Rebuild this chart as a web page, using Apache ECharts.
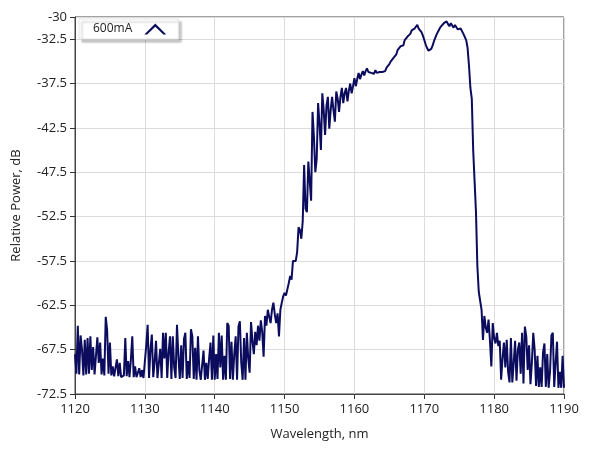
<!DOCTYPE html>
<html>
<head>
<meta charset="utf-8">
<script src="https://cdn.jsdelivr.net/npm/echarts@6/dist/echarts.min.js"></script>
<style>
html,body{margin:0;padding:0;background:#fff;}
#chart{width:589px;height:456px;}
</style>
</head>
<body>
<div id="chart"></div>
<script>
// Spectrum sampled every 0.2 nm; each row holds one nm (x.0, x.2, x.4, x.6, x.8)
const rowStartNm = 1120;
const sampleStepNm = 0.2;
const power600mA = [
  [-68.0,-70.2,-64.8,-70.3,-65.9], // 1120
  [-67.5,-70.4,-66.4,-70.3,-66.2], // 1121
  [-70.2,-66.0,-69.8,-67.2,-70.3], // 1122
  [-70.4,-66.1,-69.0,-66.7,-70.3], // 1123
  [-68.5,-70.4,-63.8,-65.3,-70.2], // 1124
  [-66.7,-70.4,-69.4,-70.5,-70.4], // 1125
  [-68.6,-70.5,-69.0,-70.6,-70.5], // 1126
  [-70.4,-66.2,-70.5,-68.8,-70.6], // 1127
  [-68.6,-66.0,-70.6,-69.4,-70.6], // 1128
  [-70.5,-69.6,-70.6,-69.8,-70.7], // 1129
  [-70.6,-67.0,-64.7,-70.7,-67.5], // 1130
  [-65.8,-70.6,-68.9,-66.5,-70.7], // 1131
  [-70.6,-67.4,-70.7,-65.6,-68.5], // 1132
  [-65.6,-70.7,-67.8,-66.0,-70.8], // 1133
  [-66.0,-69.5,-70.7,-64.7,-68.2], // 1134
  [-70.8,-67.0,-70.7,-66.3,-65.6], // 1135
  [-70.8,-68.8,-70.7,-65.2,-66.0], // 1136
  [-70.8,-67.3,-70.9,-66.0,-69.8], // 1137
  [-70.9,-70.8,-67.6,-70.9,-69.0], // 1138
  [-70.8,-68.5,-66.7,-70.9,-65.9], // 1139
  [-70.9,-68.0,-70.8,-65.6,-69.5], // 1140
  [-65.9,-70.9,-68.2,-70.9,-64.5], // 1141
  [-64.8,-70.8,-66.6,-70.9,-68.0], // 1142
  [-66.0,-70.9,-64.9,-64.3,-69.0], // 1143
  [-70.9,-66.2,-70.9,-65.6,-68.5], // 1144
  [-70.1,-64.4,-66.5,-68.0,-65.5], // 1145
  [-67.0,-64.8,-66.5,-64.2,-65.5], // 1146
  [-68.3,-63.7,-64.8,-63.0,-63.8], // 1147
  [-64.5,-63.0,-62.2,-63.5,-64.5], // 1148
  [-63.4,-66.0,-63.0,-62.2,-61.5], // 1149
  [-61.1,-61.4,-61.6,-60.0,-59.2], // 1150
  [-59.6,-57.5,-57.3,-57.5,-56.5], // 1151
  [-53.7,-54.0,-55.0,-53.0,-46.7], // 1152
  [-51.6,-52.0,-46.3,-48.5,-50.7], // 1153
  [-40.7,-43.5,-47.5,-46.0,-39.7], // 1154
  [-42.0,-45.0,-38.6,-40.5,-43.3], // 1155
  [-40.0,-39.0,-42.6,-40.5,-39.0], // 1156
  [-40.5,-41.8,-38.4,-39.2,-40.7], // 1157
  [-39.0,-38.0,-39.7,-38.6,-38.0], // 1158
  [-39.5,-38.3,-37.5,-38.6,-37.8], // 1159
  [-36.9,-37.8,-37.0,-36.3,-37.0], // 1160
  [-36.5,-36.1,-36.6,-36.1,-35.8], // 1161
  [-36.2,-36.0,-36.3,-36.1,-36.4], // 1162
  [-36.0,-36.3,-36.4,-36.2,-36.4], // 1163
  [-36.2,-36.0,-36.1,-35.7,-35.6], // 1164
  [-35.3,-35.0,-35.0,-34.6,-34.7], // 1165
  [-34.2,-33.7,-33.8,-33.3,-33.1], // 1166
  [-33.2,-32.6,-32.7,-32.2,-32.0], // 1167
  [-31.9,-31.5,-31.6,-31.3,-31.1], // 1168
  [-30.9,-31.3,-31.4,-31.7,-32.1], // 1169
  [-32.6,-33.1,-33.5,-33.8,-33.95], // 1170
  [-33.6,-33.2,-32.7,-32.3,-31.9], // 1171
  [-31.6,-31.3,-31.05,-30.9,-30.7], // 1172
  [-30.8,-30.5,-30.8,-31.05,-30.7], // 1173
  [-30.9,-31.2,-30.9,-31.0,-31.4], // 1174
  [-31.6,-31.3,-31.5,-31.9,-32.0], // 1175
  [-32.6,-33.5,-35.5,-38.0,-39.2], // 1176
  [-45.0,-48.5,-52.0,-58.1,-61.0], // 1177
  [-61.1,-63.0,-66.4,-63.7,-65.0], // 1178
  [-65.6,-64.1,-66.5,-69.4,-64.5], // 1179
  [-66.2,-66.8,-65.6,-67.1,-66.5], // 1180
  [-70.9,-68.5,-66.7,-69.5,-66.4], // 1181
  [-70.0,-71.2,-66.2,-71.2,-69.0], // 1182
  [-66.5,-71.0,-67.5,-66.7,-70.2], // 1183
  [-65.6,-71.3,-64.9,-66.0,-69.8], // 1184
  [-67.0,-71.4,-69.0,-65.6,-67.5], // 1185
  [-71.6,-68.2,-71.7,-69.5,-71.7], // 1186
  [-67.8,-66.8,-71.7,-68.0,-71.8], // 1187
  [-70.0,-65.9,-65.6,-71.7,-69.0], // 1188
  [-66.6,-71.8,-70.0,-71.8,-68.2], // 1189
  [-71.8]                          // 1190
];
const yTickValues = [-72.5, -67.5, -62.5, -57.5, -52.5, -47.5, -42.5, -37.5, -32.5, -30];
const seriesName = '600mA';

const data = [];
power600mA.forEach(function (row, r) {
  row.forEach(function (v, j) {
    const wl = Math.round((rowStartNm + r + j * sampleStepNm) * 10) / 10;
    data.push([wl, v]);
  });
});

const FONT = '"Open Sans", "Noto Sans", sans-serif';
const chart = echarts.init(document.getElementById('chart'), null, {renderer: 'canvas'});
chart.setOption({
  backgroundColor: '#ffffff',
  animation: false,
  grid: {
    left: 75, right: 25, top: 17, bottom: 62,
    show: true, borderColor: '#444', borderWidth: 1, backgroundColor: 'transparent'
  },
  legend: {
    left: 79, top: 19,
    orient: 'horizontal',
    align: 'right',
    padding: [4, 12, 4, 14],
    itemWidth: 22, itemHeight: 11,
    backgroundColor: '#ffffff',
    borderColor: '#e6e6e6', borderWidth: 1,
    shadowColor: 'rgba(0,0,0,0.22)', shadowBlur: 2, shadowOffsetX: 3, shadowOffsetY: 3,
    textStyle: {fontFamily: FONT, fontSize: 12, color: '#222', padding: [0, 7, 0, 0]},
    icon: 'path://M0,10 L10,0 L20,10 L17.4,10 L10,2.9 L2.6,10 Z',
    data: [{name: seriesName, itemStyle: {color: '#0c0c5e'}}]
  },
  xAxis: {
    type: 'value', min: 1120, max: 1190, interval: 10,
    name: 'Wavelength, nm', nameLocation: 'middle', nameGap: 34,
    nameTextStyle: {fontFamily: FONT, fontSize: 13, color: '#222'},
    axisLine: {show: true, lineStyle: {color: '#444', width: 1}},
    axisTick: {show: true, length: 5, lineStyle: {color: '#333'}},
    axisLabel: {fontFamily: FONT, fontSize: 13, color: '#222', margin: 9,
      formatter: function (v) { return String(v); }},
    splitLine: {show: true, lineStyle: {color: '#dcdcdc', width: 1}}
  },
  yAxis: {
    type: 'value', min: -72.5, max: -30,
    name: 'Relative Power, dB', nameLocation: 'middle', nameGap: 52, nameRotate: 90,
    nameTextStyle: {fontFamily: FONT, fontSize: 13, color: '#222'},
    axisLine: {show: true, lineStyle: {color: '#444', width: 1}},
    axisTick: {show: true, length: 5, lineStyle: {color: '#333'}, customValues: yTickValues},
    axisLabel: {fontFamily: FONT, fontSize: 13, color: '#222', margin: 8, customValues: yTickValues,
      formatter: function (v) { return String(v); }},
    splitLine: {show: true, lineStyle: {color: '#dcdcdc', width: 1}}
  },
  series: [{
    name: seriesName,
    type: 'line',
    data: data,
    showSymbol: false,
    symbol: 'none',
    lineStyle: {color: '#0c0c5e', width: 2},
    itemStyle: {color: '#0c0c5e'},
    clip: true
  }]
});
</script>
</body>
</html>
